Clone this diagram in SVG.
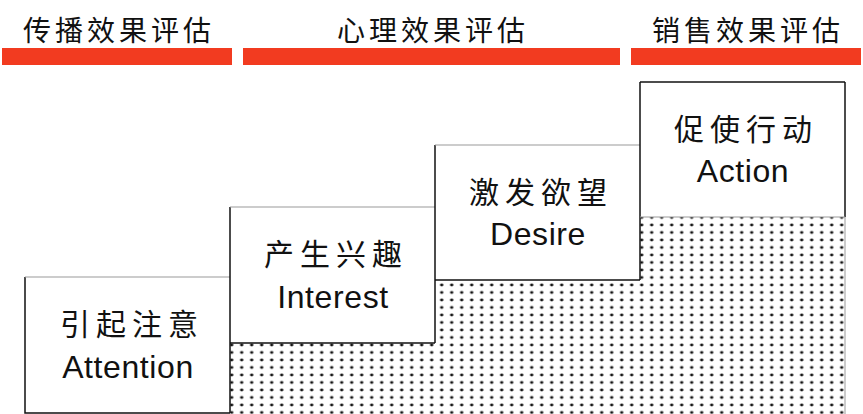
<svg xmlns="http://www.w3.org/2000/svg" width="863" height="414" viewBox="0 0 863 414">
  <style>
    .bar { fill: #f23b20; }
    .title { font-family: "Noto Sans CJK SC", "Noto Sans", sans-serif; font-size: 28px; letter-spacing: 4px; fill: #111; text-anchor: middle; }
    .box { fill: #fff; stroke: none; }
    .side { stroke: #111; stroke-width: 1.5; fill: none; }
    .top { stroke: #999; stroke-width: 1.2; fill: none; }
    .cn { font-family: "Noto Sans CJK SC", "Noto Sans", sans-serif; font-size: 30px; letter-spacing: 6px; fill: #111; text-anchor: middle; }
    .en { font-family: "Liberation Sans", "DejaVu Sans", sans-serif; font-size: 32px; letter-spacing: 0.6px; fill: #111; text-anchor: middle; }
  </style>
  <defs>
    <pattern id="dots" x="1.7" y="0" width="10" height="7.5" patternUnits="userSpaceOnUse">
      <ellipse cx="0" cy="0" rx="1.7" ry="1.4" fill="#111"/>
      <ellipse cx="10" cy="0" rx="1.7" ry="1.4" fill="#111"/>
      <ellipse cx="0" cy="7.5" rx="1.7" ry="1.4" fill="#111"/>
      <ellipse cx="10" cy="7.5" rx="1.7" ry="1.4" fill="#111"/>
    </pattern>
  </defs>
  <rect width="863" height="414" fill="#fff"/>

  <g id="headers">
    <rect class="bar" x="2" y="48" width="230" height="17"/>
    <rect class="bar" x="243" y="48" width="377" height="17"/>
    <rect class="bar" x="631" y="48" width="230" height="17"/>
    <text class="title" x="119" y="41">传播效果评估</text>
    <text class="title" x="433" y="41">心理效果评估</text>
    <text class="title" x="748" y="41">销售效果评估</text>
  </g>

  <g id="dotted-area">
    <polygon points="230,343 435,343 435,280 640,280 640,217 845,217 845,414 230,414" fill="url(#dots)"/>
    <line x1="845" y1="217" x2="845" y2="414" stroke="#999" stroke-width="1"/>
  </g>

  <g id="connectors"></g>

  <g id="node-attention">
    <rect class="box" x="25" y="277" width="205" height="136"/>
    <polyline class="side" points="25,277 25,413 230,413"/>
    <line class="top" x1="25" y1="277" x2="230" y2="277"/>
    <text class="cn" x="132" y="335">引起注意</text>
    <text class="en" x="128" y="378">Attention</text>
  </g>

  <g id="node-interest">
    <rect class="box" x="230" y="207" width="205" height="136"/>
    <polyline class="side" points="230,207 230,413"/>
    <line class="side" x1="230" y1="343" x2="435" y2="343"/>
    <line class="top" x1="230" y1="207" x2="435" y2="207"/>
    <text class="cn" x="336" y="265">产生兴趣</text>
    <text class="en" x="333" y="308">Interest</text>
  </g>

  <g id="node-desire">
    <rect class="box" x="435" y="145" width="205" height="135"/>
    <polyline class="side" points="435,145 435,343"/>
    <line class="side" x1="435" y1="280" x2="640" y2="280"/>
    <line class="top" x1="435" y1="145" x2="640" y2="145"/>
    <text class="cn" x="541" y="203">激发欲望</text>
    <text class="en" x="538" y="245">Desire</text>
  </g>

  <g id="node-action">
    <rect class="box" x="640" y="82" width="205" height="135"/>
    <polyline class="side" points="640,82 640,280"/>
    <line class="side" x1="845" y1="82" x2="845" y2="217"/>
    <line class="side" x1="640" y1="82" x2="845" y2="82"/>
    <line class="top" x1="640" y1="217" x2="845" y2="217"/>
    <text class="cn" x="746" y="140">促使行动</text>
    <text class="en" x="743" y="182">Action</text>
  </g>
</svg>
